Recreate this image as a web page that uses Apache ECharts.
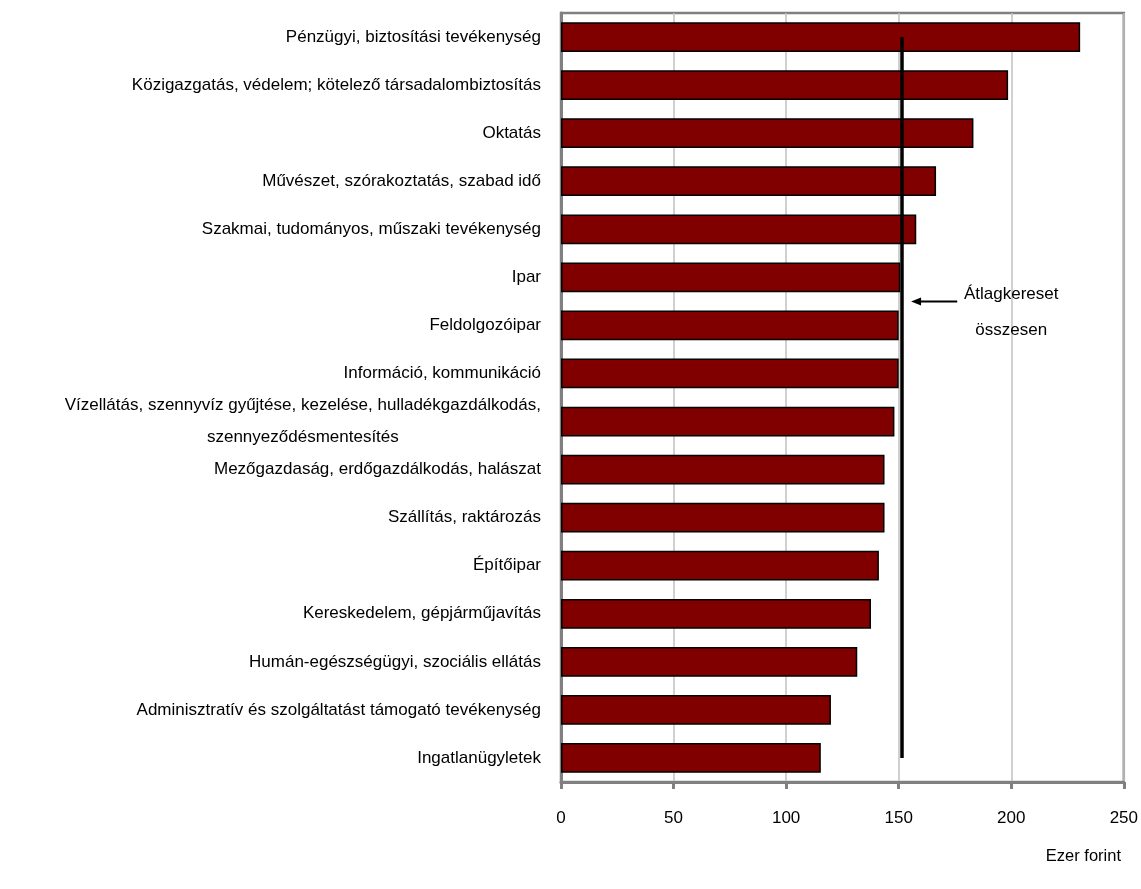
<!DOCTYPE html>
<html>
<head>
<meta charset="utf-8">
<script src="https://cdn.jsdelivr.net/npm/echarts@6/dist/echarts.min.js"></script>
<style>html,body{margin:0;padding:0;background:#fff}#c{width:1141px;height:889px}</style>
</head>
<body>
<div id="c"></div>
<script>
const categories = [
  'Pénzügyi, biztosítási tevékenység',
  'Közigazgatás, védelem; kötelező társadalombiztosítás',
  'Oktatás',
  'Művészet, szórakoztatás, szabad idő',
  'Szakmai, tudományos, műszaki tevékenység',
  'Ipar',
  'Feldolgozóipar',
  'Információ, kommunikáció',
  'Vízellátás, szennyvíz gyűjtése, kezelése, hulladékgazdálkodás,\nszennyeződésmentesítés',
  'Mezőgazdaság, erdőgazdálkodás, halászat',
  'Szállítás, raktározás',
  'Építőipar',
  'Kereskedelem, gépjárműjavítás',
  'Humán-egészségügyi, szociális ellátás',
  'Adminisztratív és szolgáltatást támogató tevékenység',
  'Ingatlanügyletek'
];
const values = [230.6, 198.6, 183.2, 166.6, 157.8, 150.7, 150.0, 150.0, 148.1, 143.7, 143.7, 141.2, 137.7, 131.6, 119.9, 115.4];
const average = 151.5;
const xTicks = [0, 50, 100, 150, 200, 250];
const annotationText = ['Átlagkereset', 'összesen'];
const unitLabel = 'Ezer forint';

const FONT = '"Liberation Sans", Arial, sans-serif';
const chart = echarts.init(document.getElementById('c'));
const option = {
  animation: false,
  backgroundColor: '#fff',
  textStyle: { fontFamily: FONT },
  title: {
    text: unitLabel, right: 15, top: 843,
    textStyle: { fontFamily: FONT, fontSize: 16.5, fontWeight: 'normal', color: '#000' }
  },
  grid: { left: 561, right: 15, top: 13, bottom: 107, show: true, borderColor: '#808080', borderWidth: 2.5, containLabel: false },
  xAxis: {
    type: 'value', min: xTicks[0], max: xTicks[xTicks.length - 1], interval: 50,
    axisLine: { show: true, lineStyle: { color: '#808080', width: 3 } },
    axisTick: { show: true, length: 7, lineStyle: { color: '#808080', width: 3 } },
    axisLabel: { fontSize: 17, color: '#000', margin: 28, fontFamily: FONT },
    splitLine: { show: true, lineStyle: { color: '#c0c0c0', width: 1.5 } }
  },
  yAxis: {
    type: 'category', data: categories, inverse: true,
    axisLine: { show: true, lineStyle: { color: '#808080', width: 3 } },
    axisTick: { show: false },
    axisLabel: {
      margin: 20, color: '#000', fontSize: 17, fontFamily: FONT, align: 'right',
      formatter: function (v) {
        if (v.indexOf('\n') >= 0) {
          return v.split('\n').map(s => '{c|' + s + '}').join('\n');
        }
        return v;
      },
      rich: { c: { align: 'center', fontSize: 17, fontFamily: FONT, color: '#000', lineHeight: 32 } }
    },
    splitLine: { show: false }
  },
  series: [{
    type: 'bar', data: values, barCategoryGap: '38%',
    itemStyle: { color: '#800000', borderColor: '#000', borderWidth: 1.5 },
    markLine: {
      silent: true, symbol: ['none', 'none'],
      label: { show: false },
      lineStyle: { color: '#000', width: 3.5, type: 'solid' },
      data: [[
        { coord: [average, categories[0]] },
        { coord: [average, categories[categories.length - 1]] }
      ]]
    }
  }]
};
chart.setOption(option);

const pA = chart.convertToPixel({ gridIndex: 0 }, [average + 4, categories[5]]);
const pB = chart.convertToPixel({ gridIndex: 0 }, [average + 24.5, categories[6]]);
const pT = chart.convertToPixel({ gridIndex: 0 }, [200, categories[5]]);
const ay = (pA[1] + pB[1]) / 2;
chart.setOption({
  graphic: [
    { type: 'line', shape: { x1: pA[0] + 8, y1: ay, x2: pB[0], y2: ay }, style: { stroke: '#000', lineWidth: 2 } },
    { type: 'polygon', shape: { points: [[pA[0], ay], [pA[0] + 10, ay - 4], [pA[0] + 10, ay + 4]] }, style: { fill: '#000' } },
    { type: 'text', x: pT[0], y: ay - 7, style: { text: annotationText[0], fontSize: 17, fontFamily: FONT, fill: '#000', align: 'center', verticalAlign: 'middle' } },
    { type: 'text', x: pT[0], y: ay + 29, style: { text: annotationText[1], fontSize: 17, fontFamily: FONT, fill: '#000', align: 'center', verticalAlign: 'middle' } }
  ]
});
</script>
</body>
</html>
